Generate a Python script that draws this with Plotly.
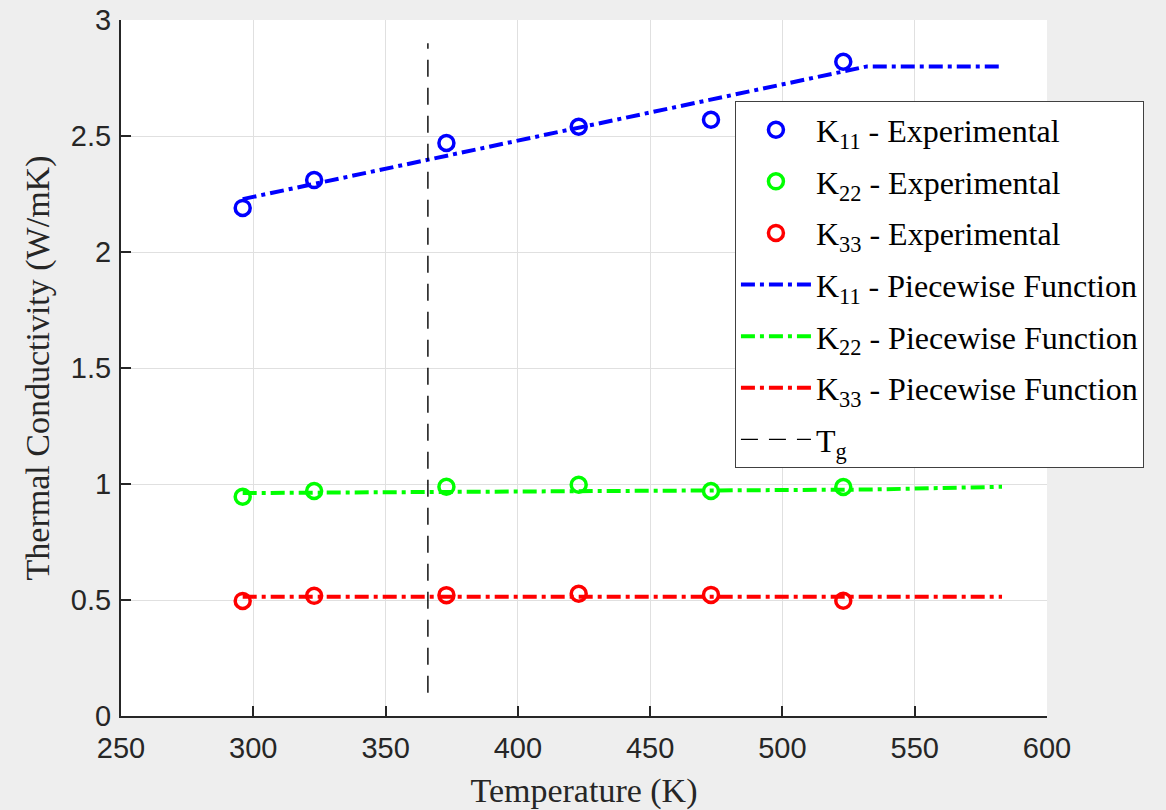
import plotly.graph_objects as go

# ---- data ----
temps_exp = [296, 323, 373, 423, 473, 523]
k11_exp = [2.19, 2.31, 2.47, 2.54, 2.57, 2.82]
k22_exp = [0.945, 0.97, 0.988, 0.997, 0.97, 0.987]
k33_exp = [0.496, 0.518, 0.521, 0.527, 0.522, 0.497]

temps_fit = [296, 532, 583]
k11_fit = [2.228, 2.80, 2.80]
k22_fit = [0.961, 0.976, 0.988]
k33_fit = [0.514, 0.514, 0.514]

tg_x = [366, 366]
tg_y = [0.1, 2.9]

x_ticks = [250, 300, 350, 400, 450, 500, 550, 600]
y_ticks = [0, 0.5, 1, 1.5, 2, 2.5, 3]
y_tick_labels = ["0", "0.5", "1", "1.5", "2", "2.5", "3"]

BLUE, GREEN, RED = "#0000ff", "#00ff00", "#ff0000"
DASHDOT = "14px,5px,4px,5px"

fig = go.Figure()
g = 0
for name, y, c in [("K<sub>11</sub> - Experimental", k11_exp, BLUE),
                   ("K<sub>22</sub> - Experimental", k22_exp, GREEN),
                   ("K<sub>33</sub> - Experimental", k33_exp, RED)]:
    fig.add_trace(go.Scatter(x=temps_exp, y=y, mode="markers", name=name, legendgroup="g%d" % g,
                             marker=dict(symbol="circle-open", size=15, color=c,
                                         line=dict(width=3.5, color=c))))
    g += 1
for name, y, c in [("K<sub>11</sub> - Piecewise Function", k11_fit, BLUE),
                   ("K<sub>22</sub> - Piecewise Function", k22_fit, GREEN),
                   ("K<sub>33</sub> - Piecewise Function", k33_fit, RED)]:
    fig.add_trace(go.Scatter(x=temps_fit, y=y, mode="lines", name=name, legendgroup="g%d" % g,
                             line=dict(color=c, width=4, dash=DASHDOT)))
    g += 1
fig.add_trace(go.Scatter(x=tg_x, y=tg_y, mode="lines", name="T<sub>g</sub>", legendgroup="g%d" % g,
                         line=dict(color="black", width=1.4, dash="17px,11px")))

axis_common = dict(showgrid=True, gridcolor="#e0e0e0", gridwidth=1,
                   showline=True, linecolor="#262626", linewidth=2,
                   ticks="inside", ticklen=10, tickwidth=2, tickcolor="#262626",
                   zeroline=False, automargin=False,
                   tickfont=dict(family="Liberation Sans, Arial", size=29, color="#262626"))

fig.update_layout(
    width=1166, height=810,
    margin=dict(l=121, r=119, t=20, b=94),
    paper_bgcolor="#eeeeee", plot_bgcolor="white",
    xaxis=dict(range=[250, 600], tickvals=x_ticks, ticklabelstandoff=5,
               title=dict(text="Temperature (K)", standoff=16,
                          font=dict(family="Liberation Serif, Times New Roman", size=34, color="#262626")),
               **axis_common),
    yaxis=dict(range=[0, 3], tickvals=y_ticks, ticktext=y_tick_labels, ticklabelstandoff=2,
               title=dict(text="Thermal Conductivity (W/mK)", standoff=11,
                          font=dict(family="Liberation Serif, Times New Roman", size=34, color="#262626")),
               **axis_common),
    legend=dict(x=0.663, y=0.883, xanchor="left", yanchor="top",
                bgcolor="white", bordercolor="#404040", borderwidth=1,
                font=dict(family="Liberation Serif, Times New Roman", size=32, color="black"),
                traceorder="grouped", itemwidth=70, tracegroupgap=7),
    showlegend=True,
)

fig.write_html("out.html", config={"displayModeBar": False},
               post_script="document.body.style.margin='0px';")
